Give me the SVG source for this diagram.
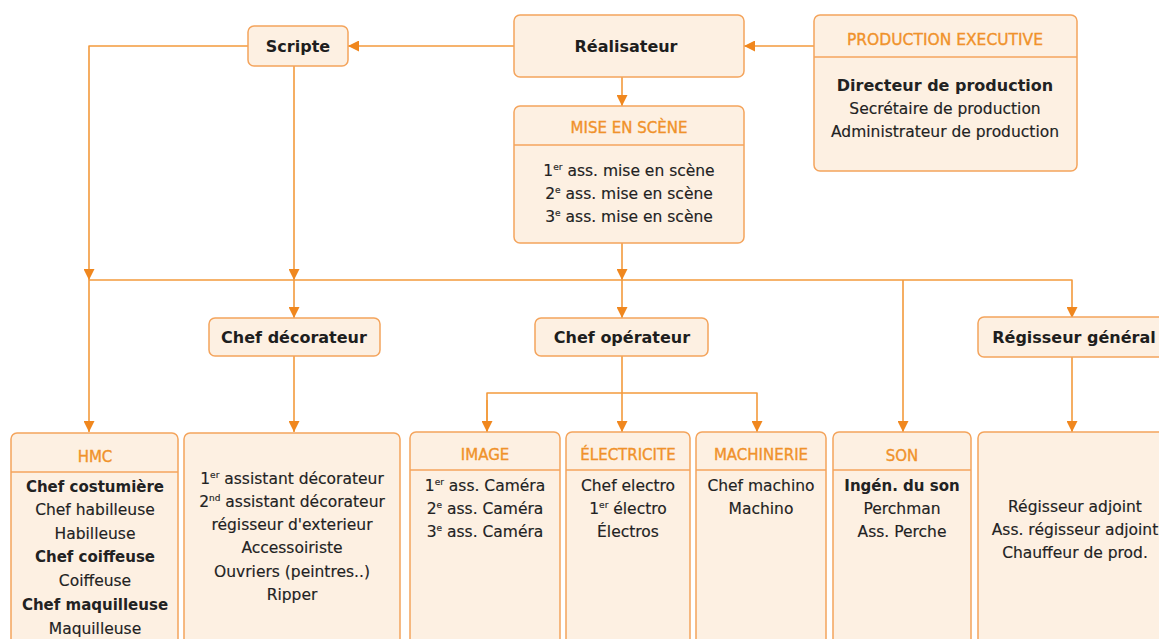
<svg xmlns="http://www.w3.org/2000/svg" width="1159" height="639" viewBox="0 0 1159 639">
<style>
.box{fill:#FDF0E2;stroke:#F4A45C;stroke-width:1.5}
.div{stroke:#F4A45C;stroke-width:1.5}
.t{font-family:"DejaVu Sans",sans-serif;font-size:15.5px;fill:#222;stroke:#222;stroke-width:0.15;text-anchor:middle}
.b{font-weight:bold;font-size:15px;stroke-width:0}
.tt{font-family:"DejaVu Sans",sans-serif;font-size:16px;font-weight:bold;fill:#1e1e1e;text-anchor:middle}
.h{font-family:"DejaVu Sans",sans-serif;font-size:15px;fill:#F0922B;stroke:#F0922B;stroke-width:0.35;text-anchor:middle}
.c{fill:none;stroke:#F39A3C;stroke-width:1.6;stroke-linejoin:round}
.sup{font-size:9px}
</style>
<defs>
<marker id="ar" viewBox="0 0 11 11" refX="11" refY="5.5" markerWidth="11" markerHeight="11" markerUnits="userSpaceOnUse" orient="auto">
<path d="M0,0 L11,5.5 L0,11 z" fill="#F0871E"/>
</marker>
</defs>
<rect width="1159" height="639" fill="#fff"/>

<g id="connectors">
<path class="c" d="M814,46 H744" marker-end="url(#ar)"/>
<path class="c" d="M514,46 H348" marker-end="url(#ar)"/>
<path class="c" d="M248,46 H89 V280" marker-end="url(#ar)"/>
<path class="c" d="M89,280 V432" marker-end="url(#ar)"/>
<path class="c" d="M294,66 V280" marker-end="url(#ar)"/>
<path class="c" d="M294,280 V318" marker-end="url(#ar)"/>
<path class="c" d="M622,77 V106" marker-end="url(#ar)"/>
<path class="c" d="M622,243 V280" marker-end="url(#ar)"/>
<path class="c" d="M622,280 V318" marker-end="url(#ar)"/>
<path class="c" d="M89,280 H1072 V318" marker-end="url(#ar)"/>
<path class="c" d="M903,280 V432" marker-end="url(#ar)"/>
<path class="c" d="M294,356 V432" marker-end="url(#ar)"/>
<path class="c" d="M622,356 V432" marker-end="url(#ar)"/>
<path class="c" d="M487,432 V393 H757 V432" marker-end="url(#ar)"/>
<path class="c" d="M487,400 V432" marker-end="url(#ar)"/>
<path class="c" d="M1072,357 V432" marker-end="url(#ar)"/>
</g>

<g id="scripte">
<rect class="box" x="248" y="26" width="100" height="40" rx="6"/>
<text class="tt" x="298" y="52">Scripte</text>
</g>

<g id="realisateur">
<rect class="box" x="514" y="15" width="230" height="62" rx="6"/>
<text class="tt" x="626" y="52">Réalisateur</text>
</g>

<g id="production-executive">
<rect class="box" x="814" y="15" width="263" height="156" rx="6"/>
<line class="div" x1="814" y1="57" x2="1077" y2="57"/>
<text class="h" x="945" y="45" style="font-size:15.5px">PRODUCTION EXECUTIVE</text>
<text class="t b" x="945" y="91" style="font-size:16px">Directeur de production</text>
<text class="t" x="945" y="114">Secrétaire de production</text>
<text class="t" x="945" y="137">Administrateur de production</text>
</g>

<g id="mise-en-scene">
<rect class="box" x="514" y="106" width="230" height="137" rx="6"/>
<line class="div" x1="514" y1="145" x2="744" y2="145"/>
<text class="h" x="629" y="133">MISE EN SCÈNE</text>
<text class="t" x="629" y="176">1<tspan class="sup" dy="-6">er</tspan><tspan dy="6"> ass. mise en scène</tspan></text>
<text class="t" x="629" y="199">2<tspan class="sup" dy="-6">e</tspan><tspan dy="6"> ass. mise en scène</tspan></text>
<text class="t" x="629" y="222">3<tspan class="sup" dy="-6">e</tspan><tspan dy="6"> ass. mise en scène</tspan></text>
</g>

<g id="chef-decorateur">
<rect class="box" x="209" y="318" width="171" height="38" rx="6"/>
<text class="tt" x="294" y="343">Chef décorateur</text>
</g>

<g id="chef-operateur">
<rect class="box" x="535" y="318" width="173" height="38" rx="6"/>
<text class="tt" x="622" y="343">Chef opérateur</text>
</g>

<g id="regisseur-general">
<rect class="box" x="978" y="317" width="200" height="40" rx="6"/>
<text class="tt" x="1074" y="343">Régisseur général</text>
</g>

<g id="hmc">
<rect class="box" x="11" y="433" width="167" height="230" rx="6"/>
<line class="div" x1="11" y1="472" x2="178" y2="472"/>
<text class="h" x="95" y="462">HMC</text>
<text class="t b" x="95" y="492">Chef costumière</text>
<text class="t" x="95" y="515">Chef habilleuse</text>
<text class="t" x="95" y="539">Habilleuse</text>
<text class="t b" x="95" y="562">Chef coiffeuse</text>
<text class="t" x="95" y="586">Coiffeuse</text>
<text class="t b" x="95" y="610">Chef maquilleuse</text>
<text class="t" x="95" y="634">Maquilleuse</text>
</g>

<g id="decoration">
<rect class="box" x="184" y="433" width="216" height="230" rx="6"/>
<text class="t" x="292" y="484">1<tspan class="sup" dy="-6">er</tspan><tspan dy="6"> assistant décorateur</tspan></text>
<text class="t" x="292" y="507">2<tspan class="sup" dy="-6">nd</tspan><tspan dy="6"> assistant décorateur</tspan></text>
<text class="t" x="292" y="530">régisseur d'exterieur</text>
<text class="t" x="292" y="553">Accessoiriste</text>
<text class="t" x="292" y="577">Ouvriers (peintres..)</text>
<text class="t" x="292" y="600">Ripper</text>
</g>

<g id="image">
<rect class="box" x="410" y="432" width="150" height="230" rx="6"/>
<line class="div" x1="410" y1="470" x2="560" y2="470"/>
<text class="h" x="485" y="460">IMAGE</text>
<text class="t" x="485" y="491">1<tspan class="sup" dy="-6">er</tspan><tspan dy="6"> ass. Caméra</tspan></text>
<text class="t" x="485" y="514">2<tspan class="sup" dy="-6">e</tspan><tspan dy="6"> ass. Caméra</tspan></text>
<text class="t" x="485" y="537">3<tspan class="sup" dy="-6">e</tspan><tspan dy="6"> ass. Caméra</tspan></text>
</g>

<g id="electricite">
<rect class="box" x="566" y="432" width="124" height="230" rx="6"/>
<line class="div" x1="566" y1="470" x2="690" y2="470"/>
<text class="h" x="628" y="460">ÉLECTRICITE</text>
<text class="t" x="628" y="491">Chef electro</text>
<text class="t" x="628" y="514">1<tspan class="sup" dy="-6">er</tspan><tspan dy="6"> électro</tspan></text>
<text class="t" x="628" y="537">Électros</text>
</g>

<g id="machinerie">
<rect class="box" x="696" y="432" width="130" height="230" rx="6"/>
<line class="div" x1="696" y1="470" x2="826" y2="470"/>
<text class="h" x="761" y="460">MACHINERIE</text>
<text class="t" x="761" y="491">Chef machino</text>
<text class="t" x="761" y="514">Machino</text>
</g>

<g id="son">
<rect class="box" x="833" y="432" width="138" height="230" rx="6"/>
<line class="div" x1="833" y1="470" x2="971" y2="470"/>
<text class="h" x="902" y="461">SON</text>
<text class="t b" x="902" y="491">Ingén. du son</text>
<text class="t" x="902" y="514">Perchman</text>
<text class="t" x="902" y="537">Ass. Perche</text>
</g>

<g id="regie">
<rect class="box" x="978" y="432" width="200" height="230" rx="6"/>
<text class="t" x="1075" y="512">Régisseur adjoint</text>
<text class="t" x="1075" y="535">Ass. régisseur adjoint</text>
<text class="t" x="1075" y="558">Chauffeur de prod.</text>
</g>
</svg>
